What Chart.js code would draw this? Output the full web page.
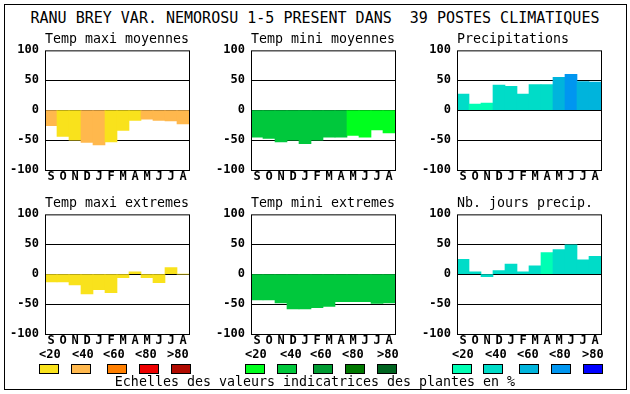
<!DOCTYPE html>
<html>
<head>
<meta charset="utf-8">
<script src="https://cdn.jsdelivr.net/npm/chart.js@4"></script>
<style>
  body { margin: 0; background: #fff; width: 630px; height: 394px; overflow: hidden; position: relative; font-family: "DejaVu Sans Mono", monospace; }
  .frame { position: absolute; left: 4px; top: 4px; width: 623px; height: 386px; border: 1px solid #000; box-sizing: border-box; }
  .txt { position: absolute; white-space: pre; color: #000; }
  canvas { position: absolute; }
  .lab { position: absolute; font: bold 12px "DejaVu Sans Mono", monospace; top: 347px; }
  .box { position: absolute; top: 364px; width: 20px; height: 10px; border: 1px solid #000; box-sizing: border-box; }
</style>
</head>
<body>
<div class="frame"></div>
<div class="txt" style="left:0;width:630px;top:9px;text-align:center;font-size:15px;">RANU BREY VAR. NEMOROSU 1-5 PRESENT DANS  39 POSTES CLIMATIQUES</div>

<canvas id="c1"></canvas>
<canvas id="c2"></canvas>
<canvas id="c3"></canvas>
<canvas id="c4"></canvas>
<canvas id="c5"></canvas>
<canvas id="c6"></canvas>

<div id="legend"></div>
<div class="txt" style="left:0;width:630px;top:374px;text-align:center;font-size:13.3px;">Echelles des valeurs indicatrices des plantes en %</div>

<script>
// months Sept -> Aug
const months = ['S', 'O', 'N', 'D', 'J', 'F', 'M', 'A', 'M', 'J', 'J', 'A'];
const yTicks = [-100, -50, 0, 50, 100];
const classLabels = ['<20', '<40', '<60', '<80', '>80'];

// colour scales (indicator value bands)
const warmColors = ['#f9e21c', '#ffb84d', '#ff7f00', '#ee0000', '#b00a00'];
const greenColors = ['#00ff1e', '#00c83c', '#009b32', '#007800', '#006420'];
const blueColors = ['#00ffb4', '#00dcc8', '#00b4dc', '#0096f0', '#0000ff'];

// series values and their band class
const tmaxMoy = [-26, -44, -50, -54, -58, -53, -34, -17, -15, -17, -18, -23];
const tmaxMoyCls = [1, 0, 0, 1, 1, 0, 0, 0, 1, 1, 1, 1];
const tminMoy = [-45, -47, -53, -50, -56, -50, -45, -45, -42, -45, -33, -38];
const tminMoyCls = [1, 1, 1, 1, 1, 1, 1, 1, 0, 0, 0, 0];
const precip = [27, 10, 12, 42, 40, 27, 43, 43, 55, 60, 48, 47];
const precipCls = [1, 0, 0, 1, 1, 1, 1, 1, 2, 3, 2, 2];
const tmaxExt = [-13, -13, -18, -33, -26, -31, -6, 4, -6, -14, 11, 0];
const tmaxExtCls = [0, 0, 0, 0, 0, 0, 0, 0, 0, 0, 0, 0];
const tminExt = [-43, -43, -48, -58, -58, -56, -54, -46, -46, -46, -49, -48];
const tminExtCls = [1, 1, 1, 1, 1, 1, 1, 1, 1, 1, 1, 1];
const nbJours = [25, 4, -4, 6, 17, 4, 14, 36, 41, 49, 24, 30];
const nbJoursCls = [1, 1, 1, 1, 1, 1, 1, 0, 1, 1, 1, 1];

// frame round the plot area
const framePlugin = {
  id: 'frame',
  afterDraw(chart) {
    const { ctx, chartArea: a } = chart;
    ctx.save();
    ctx.strokeStyle = '#000';
    ctx.lineWidth = 1;
    ctx.strokeRect(a.left + 0.5, a.top + 0.5, a.right - a.left, a.bottom - a.top);
    ctx.restore();
  }
};

function panel(id, left, top, title, values, cls, colors) {
  const canvas = document.getElementById(id);
  const W = 40 + 144 + 2;
  const H = 20 + 120 + 16;
  canvas.width = W;
  canvas.height = H;
  canvas.style.left = (left - 40) + 'px';
  canvas.style.top = (top - 20) + 'px';

  new Chart(canvas.getContext('2d'), {
    type: 'bar',
    data: {
      labels: months,
      datasets: [{
        data: values,
        backgroundColor: cls.map(c => colors[c]),
        borderWidth: 0,
        barPercentage: 1,
        categoryPercentage: 1
      }]
    },
    options: {
      responsive: false,
      animation: false,
      layout: { padding: { left: 0, right: 2, top: 0, bottom: 0 } },
      scales: {
        x: {
          grid: { display: false, drawTicks: false },
          border: { display: false },
          ticks: { color: '#000', padding: 0, font: { family: 'DejaVu Sans Mono', size: 12, weight: 'bold' }, maxRotation: 0, autoSkip: false },
          afterFit: s => { s.height = 16; }
        },
        y: {
          min: -100,
          max: 100,
          z: 1,
          afterBuildTicks: s => { s.ticks = yTicks.map(v => ({ value: v })); },
          grid: {
            color: ctx => (ctx.tick && Math.abs(ctx.tick.value) === 100) ? 'rgba(0,0,0,0)' : '#000',
            lineWidth: 1,
            drawTicks: false
          },
          border: { display: false },
          ticks: { color: '#000', padding: 6, font: { family: 'DejaVu Sans Mono', size: 12, weight: 'bold' } },
          afterFit: s => { s.width = 40; }
        }
      },
      plugins: {
        legend: { display: false },
        tooltip: { enabled: false },
        title: {
          display: true,
          text: title,
          align: 'start',
          fullSize: false,
          color: '#000',
          padding: { top: 2, bottom: 2.4 },
          font: { family: 'DejaVu Sans Mono', size: 13.3, weight: 'normal', lineHeight: 1.2 }
        }
      }
    },
    plugins: [framePlugin]
  });
}

panel('c1', 45, 50, 'Temp maxi moyennes', tmaxMoy, tmaxMoyCls, warmColors);
panel('c2', 251, 50, 'Temp mini moyennes', tminMoy, tminMoyCls, greenColors);
panel('c3', 457, 50, 'Precipitations', precip, precipCls, blueColors);
panel('c4', 45, 214, 'Temp maxi extremes', tmaxExt, tmaxExtCls, warmColors);
panel('c5', 251, 214, 'Temp mini extremes', tminExt, tminExtCls, greenColors);
panel('c6', 457, 214, 'Nb. jours precip.', nbJours, nbJoursCls, blueColors);

// colour scale legends under each column
const legendGroups = [
  { colors: warmColors, boxes: [39, 71, 107, 139, 171], labels: [39, 72, 103, 135, 167] },
  { colors: greenColors, boxes: [245, 277, 313, 345, 377], labels: [245, 280, 310, 342, 377] },
  { colors: blueColors, boxes: [452, 483, 519, 551, 583], labels: [452, 485, 517, 549, 582] }
];
const legend = document.getElementById('legend');
legendGroups.forEach(g => {
  classLabels.forEach((lab, i) => {
    const t = document.createElement('div');
    t.className = 'lab';
    t.style.left = g.labels[i] + 'px';
    t.textContent = lab;
    legend.appendChild(t);
    const b = document.createElement('div');
    b.className = 'box';
    b.style.left = g.boxes[i] + 'px';
    b.style.background = g.colors[i];
    legend.appendChild(b);
  });
});
</script>
</body>
</html>
